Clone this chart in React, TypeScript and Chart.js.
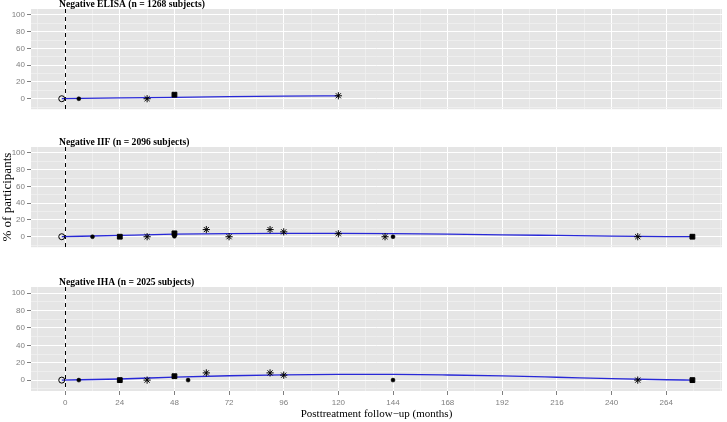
import React, { useEffect, useRef } from "react";
import { Chart, registerables } from "chart.js";

Chart.register(...registerables);

// ---- axis ranges & ticks ----
const X_MIN = -15;
const X_MAX = 288.5;
const Y_MIN = -12.5;
const Y_MAX = 107;
const X_TICKS = [-12, 0, 12, 24, 36, 48, 60, 72, 84, 96, 108, 120, 132, 144, 156, 168, 180, 192, 204, 216, 228, 240, 252, 264, 276, 288];
const X_LABELS = [0, 24, 48, 72, 96, 120, 144, 168, 192, 216, 240, 264];
const Y_TICKS = [-10, 0, 10, 20, 30, 40, 50, 60, 70, 80, 90, 100];
const Y_LABELS = [0, 20, 40, 60, 80, 100];

const X_TITLE = "Posttreatment follow\u2212up (months)";
const Y_TITLE = "% of participants";

// ---- panel titles ----
const TITLE_ELISA = "Negative ELISA (n = 1268 subjects)";
const TITLE_IIF = "Negative IIF (n = 2096 subjects)";
const TITLE_IHA = "Negative IHA (n = 2025 subjects)";

type Pt = { x: number; y: number };

// ---- Negative ELISA ----
const elisaOpen: Pt[] = [{ x: -1.5, y: 0 }];
const elisaDot: Pt[] = [{ x: 6, y: 0 }];
const elisaSquare: Pt[] = [{ x: 48, y: 4.8 }];
const elisaStar: Pt[] = [{ x: 36, y: 0 }, { x: 120, y: 3.5 }];
const elisaFitX = [-1.5, 24, 48, 72, 96, 120];
const elisaFitY = [0, 0.9, 1.7, 2.4, 3.0, 3.5];

// ---- Negative IIF ----
const iifOpen: Pt[] = [{ x: -1.5, y: 0 }];
const iifDot: Pt[] = [{ x: 12, y: 0 }, { x: 48, y: 0.5 }, { x: 144, y: 0 }];
const iifSquare: Pt[] = [{ x: 24, y: 0 }, { x: 48, y: 4 }, { x: 275.5, y: 0 }];
const iifStar: Pt[] = [
  { x: 36, y: 0 }, { x: 62, y: 8.5 }, { x: 72, y: 0 }, { x: 90, y: 8.5 },
  { x: 96, y: 5.8 }, { x: 120, y: 3.5 }, { x: 140.5, y: 0 }, { x: 251.5, y: 0 },
];
const iifFitX = [-1.5, 24, 48, 72, 96, 120, 144, 168, 192, 216, 240, 264, 275.5];
const iifFitY = [0, 1.6, 3.0, 3.8, 4.1, 4.0, 3.6, 3.0, 2.3, 1.5, 0.7, 0.1, 0];

// ---- Negative IHA ----
const ihaOpen: Pt[] = [{ x: -1.5, y: 0 }];
const ihaDot: Pt[] = [{ x: 6, y: 0 }, { x: 54, y: 0 }, { x: 144, y: 0 }];
const ihaSquare: Pt[] = [{ x: 24, y: 0 }, { x: 48, y: 4.5 }, { x: 275.5, y: 0 }];
const ihaStar: Pt[] = [
  { x: 36, y: 0 }, { x: 62, y: 8.3 }, { x: 90, y: 8.3 }, { x: 96, y: 5.7 }, { x: 251.5, y: 0 },
];
const ihaFitX = [-1.5, 24, 48, 72, 96, 120, 144, 168, 192, 216, 240, 264, 275.5];
const ihaFitY = [0, 1.3, 3.4, 5.0, 6.0, 6.5, 6.5, 5.9, 4.8, 3.3, 1.7, 0.4, 0];

const W = 727;
const PANEL_LEFT = 31;
const PANEL_RIGHT = 722;
const PANEL_H = 104;

type PanelCfg = {
  title: string;
  top: number; // panel area top in page
  open: Pt[];
  dot: Pt[];
  square: Pt[];
  star: Pt[];
  fitX: number[];
  fitY: number[];
  bottomAxis: boolean;
  yTitle: boolean;
};

const TITLE_SPACE = 16;

function Panel({ cfg }: { cfg: PanelCfg }) {
  const ref = useRef<HTMLCanvasElement | null>(null);
  const canvasTop = cfg.top - TITLE_SPACE;
  const bottomSpace = cfg.bottomAxis ? 422 - (cfg.top + PANEL_H) : 3;
  const height = TITLE_SPACE + PANEL_H + bottomSpace;

  useEffect(() => {
    if (!ref.current) return;
    const panelBg = {
      id: "panelBg",
      beforeDraw(chart: any) {
        const { ctx, chartArea: a } = chart;
        ctx.save();
        ctx.fillStyle = "#e5e5e5";
        ctx.fillRect(a.left, a.top, a.right - a.left, a.bottom - a.top);
        ctx.restore();
      },
    };
    const vline = {
      id: "vline",
      beforeDatasetsDraw(chart: any) {
        const { ctx, chartArea: a } = chart;
        const x = Math.round(chart.scales.x.getPixelForValue(0)) + 0.5;
        ctx.save();
        ctx.strokeStyle = "#000";
        ctx.lineWidth = 1;
        ctx.setLineDash([4, 4]);
        ctx.beginPath();
        ctx.moveTo(x, a.top);
        ctx.lineTo(x, a.bottom);
        ctx.stroke();
        ctx.restore();
      },
    };
    const titlePlugin = {
      id: "panelTitle",
      afterDraw(chart: any) {
        const { ctx, chartArea: a } = chart;
        ctx.save();
        ctx.font = 'bold 9.6px "Liberation Serif", serif';
        ctx.fillStyle = "#000";
        ctx.textAlign = "left";
        ctx.textBaseline = "alphabetic";
        ctx.fillText(cfg.title, a.left + 28, a.top - 2);
        ctx.restore();
      },
    };

    const isMajorX = (v: number) => X_LABELS.includes(v);
    const isMajorY = (v: number) => Y_LABELS.includes(v);

    const chart = new Chart(ref.current, {
      type: "scatter",
      data: {
        datasets: [
          {
            data: cfg.open,
            pointStyle: "circle",
            pointRadius: 3,
            pointBorderWidth: 1,
            pointBackgroundColor: "rgba(255,255,255,0)",
            pointBorderColor: "#000",
          },
          {
            data: cfg.dot,
            pointStyle: "circle",
            pointRadius: 2,
            pointBorderWidth: 0.5,
            pointBackgroundColor: "#000",
            pointBorderColor: "#000",
          },
          {
            data: cfg.square,
            pointStyle: "rect",
            pointRadius: 3.4,
            pointBorderWidth: 1,
            pointBackgroundColor: "#000",
            pointBorderColor: "#000",
          },
          {
            data: cfg.star,
            pointStyle: "star",
            pointRadius: 3.6,
            pointBorderWidth: 1,
            pointBackgroundColor: "#000",
            pointBorderColor: "#000",
          },
          {
            data: cfg.fitX.map((x, i) => ({ x, y: cfg.fitY[i] })),
            showLine: true,
            pointRadius: 0,
            borderColor: "rgb(40,40,215)",
            borderWidth: 1.3,
            cubicInterpolationMode: "monotone",
            order: 10,
          } as any,
        ],
      },
      options: {
        animation: false,
        responsive: false,
        devicePixelRatio: 1,
        layout: {
          padding: {
            top: TITLE_SPACE,
            left: 0,
            right: W - PANEL_RIGHT,
            bottom: cfg.bottomAxis ? 0 : bottomSpace,
          },
        },
        plugins: {
          legend: { display: false },
          tooltip: { enabled: false },
        },
        scales: {
          x: {
            type: "linear",
            min: X_MIN,
            max: X_MAX,
            afterBuildTicks: (s: any) => {
              s.ticks = X_TICKS.map((v) => ({ value: v }));
            },
            afterFit: (s: any) => {
              s.height = cfg.bottomAxis ? bottomSpace : 0;
            },
            border: { display: false },
            grid: {
              color: (c: any) => (c.tick && isMajorX(c.tick.value) ? "#ffffff" : "#f0f0f0"),
              lineWidth: (c: any) => (c.tick && isMajorX(c.tick.value) ? 1 : 0.8),
              drawTicks: cfg.bottomAxis,
              tickLength: 4,
              tickColor: (c: any) => (c.tick && isMajorX(c.tick.value) ? "#7f7f7f" : "rgba(0,0,0,0)"),
            },
            ticks: {
              display: cfg.bottomAxis,
              autoSkip: false,
              maxRotation: 0,
              padding: 3,
              color: "#7f7f7f",
              font: { family: '"Liberation Sans", sans-serif', size: 8 },
              callback: (v: any) => (isMajorX(Number(v)) ? String(v) : ""),
            },
            title: {
              display: cfg.bottomAxis,
              text: X_TITLE,
              color: "#000",
              font: { family: '"Liberation Serif", serif', size: 11 },
              padding: { top: 0, bottom: 1 },
            },
          },
          y: {
            type: "linear",
            min: Y_MIN,
            max: Y_MAX,
            afterBuildTicks: (s: any) => {
              s.ticks = Y_TICKS.map((v) => ({ value: v }));
            },
            afterFit: (s: any) => {
              s.width = PANEL_LEFT;
            },
            border: { display: false },
            grid: {
              color: (c: any) => (c.tick && isMajorY(c.tick.value) ? "#ffffff" : "#f0f0f0"),
              lineWidth: (c: any) => (c.tick && isMajorY(c.tick.value) ? 1 : 0.8),
              drawTicks: true,
              tickLength: 4,
              tickColor: (c: any) => (c.tick && isMajorY(c.tick.value) ? "#7f7f7f" : "rgba(0,0,0,0)"),
            },
            ticks: {
              autoSkip: false,
              padding: 2,
              color: "#7f7f7f",
              font: { family: '"Liberation Sans", sans-serif', size: 8 },
              callback: (v: any) => (isMajorY(Number(v)) ? String(v) : ""),
            },
            title: {
              display: cfg.yTitle,
              text: Y_TITLE,
              color: "#000",
              font: { family: '"Liberation Serif", serif', size: 13 },
              padding: { top: 0, bottom: 0 },
            },
          },
        },
      },
      plugins: [panelBg, vline, titlePlugin],
    } as any);
    return () => chart.destroy();
  }, []);

  return (
    <canvas
      ref={ref}
      width={W}
      height={height}
      style={{ position: "absolute", left: 0, top: canvasTop, width: W, height, display: "block" }}
    />
  );
}

const PANELS: PanelCfg[] = [
  { title: TITLE_ELISA, top: 9, open: elisaOpen, dot: elisaDot, square: elisaSquare, star: elisaStar, fitX: elisaFitX, fitY: elisaFitY, bottomAxis: false, yTitle: false },
  { title: TITLE_IIF, top: 147, open: iifOpen, dot: iifDot, square: iifSquare, star: iifStar, fitX: iifFitX, fitY: iifFitY, bottomAxis: false, yTitle: true },
  { title: TITLE_IHA, top: 287, open: ihaOpen, dot: ihaDot, square: ihaSquare, star: ihaStar, fitX: ihaFitX, fitY: ihaFitY, bottomAxis: true, yTitle: false },
];

export default function App() {
  useEffect(() => {
    document.body.style.margin = "0";
    document.body.style.background = "#ffffff";
  }, []);
  return (
    <div style={{ position: "relative", width: W, height: 422, overflow: "hidden", background: "#fff" }}>
      {PANELS.map((p, i) => (
        <Panel key={i} cfg={p} />
      ))}
    </div>
  );
}
